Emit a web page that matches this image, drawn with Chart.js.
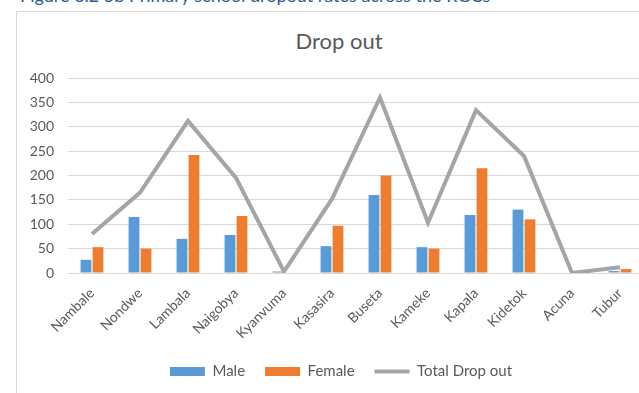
<!DOCTYPE html>
<html>
<head>
<meta charset="utf-8">
<script src="https://cdn.jsdelivr.net/npm/chart.js@4/dist/chart.umd.min.js"></script>
<style>
  html, body { margin: 0; padding: 0; background: #fff; overflow: hidden; width: 639px; height: 393px; }
  #caption { position: absolute; left: 20px; top: -16px; font: 18px Lato, sans-serif; color: #2e5c8e; white-space: nowrap; }
  #frame { position: absolute; left: 16px; top: 11px; width: 700px; height: 500px; border: 1px solid #d9d9d9; }
  #title { position: absolute; left: 0; width: 678px; top: 27px; text-align: center; font: 22px Lato, sans-serif; color: #595959; }
  #wrap { position: absolute; left: 6px; top: 11px; width: 670px; height: 400px; }
</style>
</head>
<body>
<div id="caption">Figure 3.2 5b Primary school dropout rates across the RGCs</div>
<div id="frame"></div>
<div id="title">Drop out</div>
<div id="wrap"><canvas id="dropChart"></canvas></div>
<script>
var places = ['Nambale', 'Nondwe', 'Lambala', 'Naigobya', 'Kyanvuma', 'Kasasira', 'Buseta', 'Kameke', 'Kapala', 'Kidetok', 'Acuna', 'Tubur'];
var male = [27, 115, 70, 78, 3, 55, 160, 53, 119, 130, 0, 4];
var female = [53, 50, 242, 117, 0, 97, 200, 50, 215, 110, 0, 8];
var total = [80, 165, 312, 195, 3, 152, 360, 103, 334, 240, 0, 12];
var yTicks = [0, 50, 100, 150, 200, 250, 300, 350, 400];

var grey = '#595959';
Chart.defaults.font.family = 'Lato, sans-serif';
Chart.defaults.color = grey;

// legend sits centred under the whole frame, not under the plot
var shiftLegend = {
    id: 'shiftLegend',
    afterLayout: function(chart) {
        chart.legend.left += 16;
        chart.legend.right += 16;
    }
};

new Chart(document.getElementById('dropChart'), {
    type: 'bar',
    data: {
        labels: places,
        datasets: [{
            label: 'Male',
            data: male,
            backgroundColor: '#5b9bd5',
            categoryPercentage: 0.5,
            barPercentage: 0.9,
            order: 1
        }, {
            label: 'Female',
            data: female,
            backgroundColor: '#ed7d31',
            categoryPercentage: 0.5,
            barPercentage: 0.9,
            order: 1
        }, {
            type: 'line',
            label: 'Total Drop out',
            data: total,
            borderColor: '#a5a5a5',
            backgroundColor: '#a5a5a5',
            borderWidth: 4,
            pointRadius: 0,
            tension: 0,
            order: 0
        }]
    },
    plugins: [shiftLegend],
    options: {
        responsive: true,
        maintainAspectRatio: false,
        animation: false,
        layout: { padding: { top: 67, bottom: 22, left: 0, right: 32 } },
        plugins: {
            tooltip: { enabled: false },
            legend: {
                position: 'bottom',
                labels: {
                    usePointStyle: true,
                    pointStyleWidth: 35,
                    boxHeight: 9,
                    padding: 20,
                    font: { size: 15 },
                    color: grey,
                    generateLabels: function(chart) {
                        return chart.data.datasets.map(function(ds, i) {
                            var isLine = ds.type === 'line';
                            return {
                                text: ds.label,
                                fillStyle: ds.backgroundColor,
                                strokeStyle: isLine ? ds.borderColor : ds.backgroundColor,
                                lineWidth: isLine ? 4 : 0,
                                pointStyle: isLine ? 'line' : 'rect',
                                fontColor: grey,
                                datasetIndex: i,
                                hidden: false
                            };
                        });
                    }
                }
            }
        },
        scales: {
            x: {
                grid: { display: false },
                border: { color: '#d9d9d9' },
                ticks: { maxRotation: 45, minRotation: 45, font: { size: 14 }, color: grey, labelOffset: 0, padding: 4 },
                afterFit: function(scale) { scale.height = 71; }
            },
            y: {
                min: 0,
                max: 400,
                afterBuildTicks: function(scale) { scale.ticks = yTicks.map(function(v) { return { value: v }; }); },
                grid: { color: '#d9d9d9', drawTicks: false },
                border: { display: false },
                ticks: { font: { size: 14 }, color: grey, padding: 14 },
                afterFit: function(scale) { scale.width = 62; }
            }
        }
    }
});
</script>
</body>
</html>
